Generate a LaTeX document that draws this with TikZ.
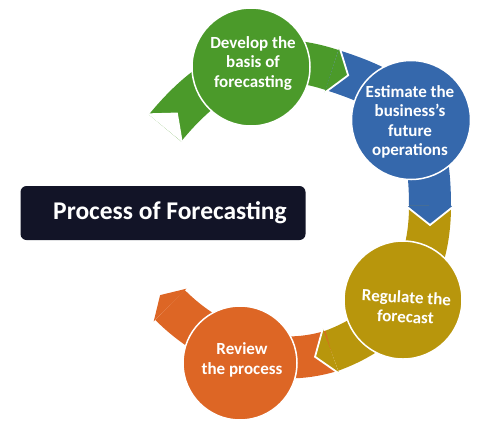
\documentclass[tikz,border=0pt]{standalone}
\usepackage{fontspec}
\setmainfont{Carlito}
\usetikzlibrary{calc}
\definecolor{cgreen}{HTML}{4B9A2A}
\definecolor{cblue}{HTML}{3568AC}
\definecolor{cyellow}{HTML}{B8960C}
\definecolor{corange}{HTML}{DD6625}
\definecolor{cnavy}{HTML}{121427}
\begin{document}
\begin{tikzpicture}[x=1pt,y=-1pt,
  band/.style={line width=42pt},
  headtip/.style={draw=white, line width=1.8pt, line join=miter},
  circ/.style={circle, draw=white, line width=1.5pt, inner sep=0pt},
  lbl/.style={text=white, align=center, font=\bfseries\fontsize{17}{19.5}\selectfont}
]
\useasboundingbox (0,0) rectangle (490,432);
% path points
\coordinate (g0) at (165,128);
\coordinate (g1) at (216,66);
\coordinate (g2) at (265,48);
\coordinate (j1) at (332,70);
\coordinate (b1) at (398.6,91.6);
\coordinate (b2) at (430,111);
\coordinate (j2) at (430,206);
\coordinate (y1) at (430,276);
\coordinate (y2) at (396.8,327.2);
\coordinate (j3) at (331,351);
\coordinate (o1) at (273.6,368.5);
\coordinate (o2) at (214.4,349.4);
\coordinate (o3) at (170,305);
% band bodies
\draw[band,cgreen] (g0) .. controls (g1) and (g2) .. (j1);
\draw[band,cblue] (j1) .. controls (b1) and (b2) .. (j2);
\draw[band,cyellow] (j2) .. controls (y1) and (y2) .. (j3);
\draw[band,corange] (j3) .. controls (o1) and (o2) .. (o3);
% notched tail of the green band
\fill[white] ($(g0)!23pt!90:(g1)$) -- ($(g0)!20pt!(g1)$) -- ($(g0)!23pt!-90:(g1)$) -- cycle;
% arrow heads
\path[fill=cgreen, headtip] ($(j1)!24pt!90:(g2)$) -- ($(j1)!-17pt!(g2)$) -- ($(j1)!24pt!-90:(g2)$);
\path[fill=cblue, headtip] ($(j2)!24pt!90:(b2)$) -- ($(j2)!-19pt!(b2)$) -- ($(j2)!24pt!-90:(b2)$);
\path[fill=cyellow, headtip] ($(j3)!24pt!90:(y2)$) -- ($(j3)!-17pt!(y2)$) -- ($(j3)!24pt!-90:(y2)$);
\path[fill=corange] ($(o3)!23pt!90:(o2)$) -- ($(o3)!-14pt!(o2)$) -- ($(o3)!23pt!-90:(o2)$) -- cycle;
% circles
\node[circ, fill=cgreen, minimum size=118pt] (c1) at (251,67) {};
\node[circ, fill=cblue, minimum size=119pt] (c2) at (411,120) {};
\node[circ, fill=cyellow, minimum size=118pt] (c3) at (403,300) {};
\node[circ, fill=corange, minimum size=114pt] (c4) at (240,363) {};
% labels
\node[lbl] (t1) at (253,63) {Develop the\\basis of\\forecasting};
\node[lbl] (t2) at (410,122) {Estimate the\\business’s\\future\\operations};
\node[lbl, rotate=-3] (t3) at (406,307) {Regulate the\\forecast};
\node[lbl] (t4) at (242,360) {Review\\the process};
% title
\node[fill=cnavy, rounded corners=6pt, minimum width=285pt, minimum height=54pt, inner sep=0pt] (box) at (163,213) {};
\node[text=white, font=\bfseries\fontsize{25.5}{29}\selectfont] (title) at (170,213) {Process of Forecasting};
\end{tikzpicture}
\end{document}
